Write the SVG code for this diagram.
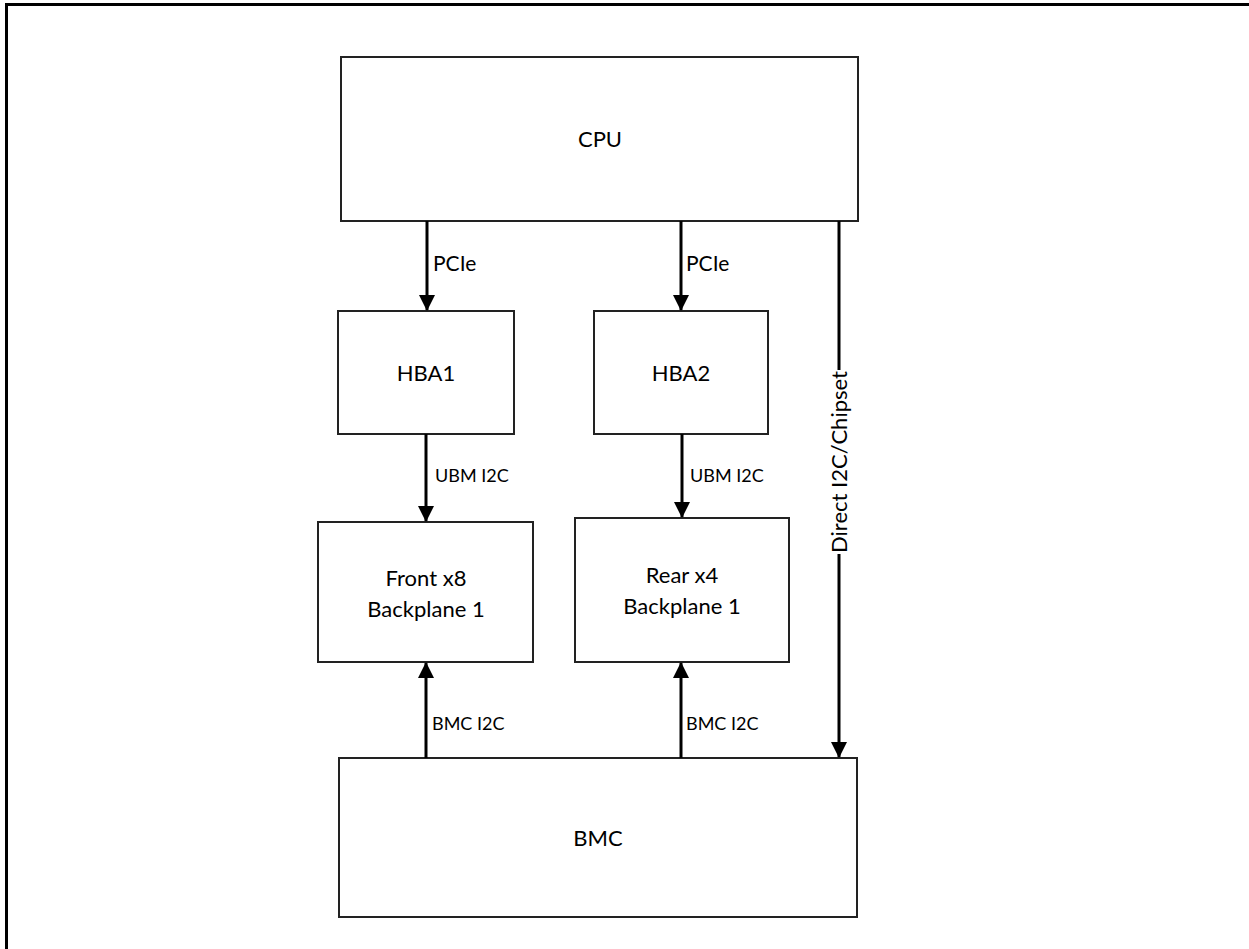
<svg xmlns="http://www.w3.org/2000/svg" width="1249" height="949" viewBox="0 0 1249 949">
<defs>
<marker id="ah" markerUnits="userSpaceOnUse" markerWidth="16" markerHeight="16" refX="15" refY="8" orient="auto">
<path d="M0,0 L16,8 L0,16 z" fill="#000"/>
</marker>
<style>
.box{fill:#fff;stroke:#222;stroke-width:2}
.t{font-family:Lato,"Liberation Sans",sans-serif;font-size:22px;fill:#000;text-anchor:middle}
.l{font-family:Lato,"Liberation Sans",sans-serif;font-size:21px;fill:#000}
.s{font-family:Lato,"Liberation Sans",sans-serif;font-size:18px;fill:#000}
.c{stroke:#000;stroke-width:3;fill:none;marker-end:url(#ah)}
</style>
</defs>
<rect x="0" y="0" width="1249" height="949" fill="#fff"/>
<rect x="6.5" y="4.5" width="1260" height="960" fill="none" stroke="#000" stroke-width="3"/>
<g id="cpu"><rect class="box" x="341" y="57" width="517" height="164"/><text class="t" x="600" y="147">CPU</text></g>
<g id="hba1"><rect class="box" x="338" y="311" width="176" height="123"/><text class="t" x="426" y="381">HBA1</text></g>
<g id="hba2"><rect class="box" x="594" y="311" width="174" height="123"/><text class="t" x="681" y="381">HBA2</text></g>
<g id="front"><rect class="box" x="318" y="522" width="215" height="140"/><text class="t" x="426" y="586">Front x8</text><text class="t" x="426" y="617">Backplane 1</text></g>
<g id="rear"><rect class="box" x="575" y="518" width="214" height="144"/><text class="t" x="682" y="583">Rear x4</text><text class="t" x="682" y="614">Backplane 1</text></g>
<g id="bmc"><rect class="box" x="339" y="758" width="518" height="159"/><text class="t" x="598" y="846">BMC</text></g>
<g id="connectors">
<line class="c" x1="427" y1="221" x2="427" y2="310"/>
<line class="c" x1="681" y1="221" x2="681" y2="310"/>
<line class="c" x1="426" y1="434" x2="426" y2="521"/>
<line class="c" x1="682" y1="434" x2="682" y2="517"/>
<line class="c" x1="426" y1="758" x2="426" y2="663"/>
<line class="c" x1="681" y1="758" x2="681" y2="663"/>
<line class="c" x1="839" y1="221" x2="839" y2="757"/>
<text class="l" x="433" y="271">PCIe</text>
<text class="l" x="686" y="271">PCIe</text>
<text class="s" x="435" y="482">UBM I2C</text>
<text class="s" x="690" y="482">UBM I2C</text>
<text class="s" x="432" y="730">BMC I2C</text>
<text class="s" x="686" y="730">BMC I2C</text>
<rect x="830" y="370" width="20" height="184" fill="#fff"/>
<text class="t" transform="translate(847,462) rotate(-90)" x="0" y="0">Direct I2C/Chipset</text>
</g>
</svg>
